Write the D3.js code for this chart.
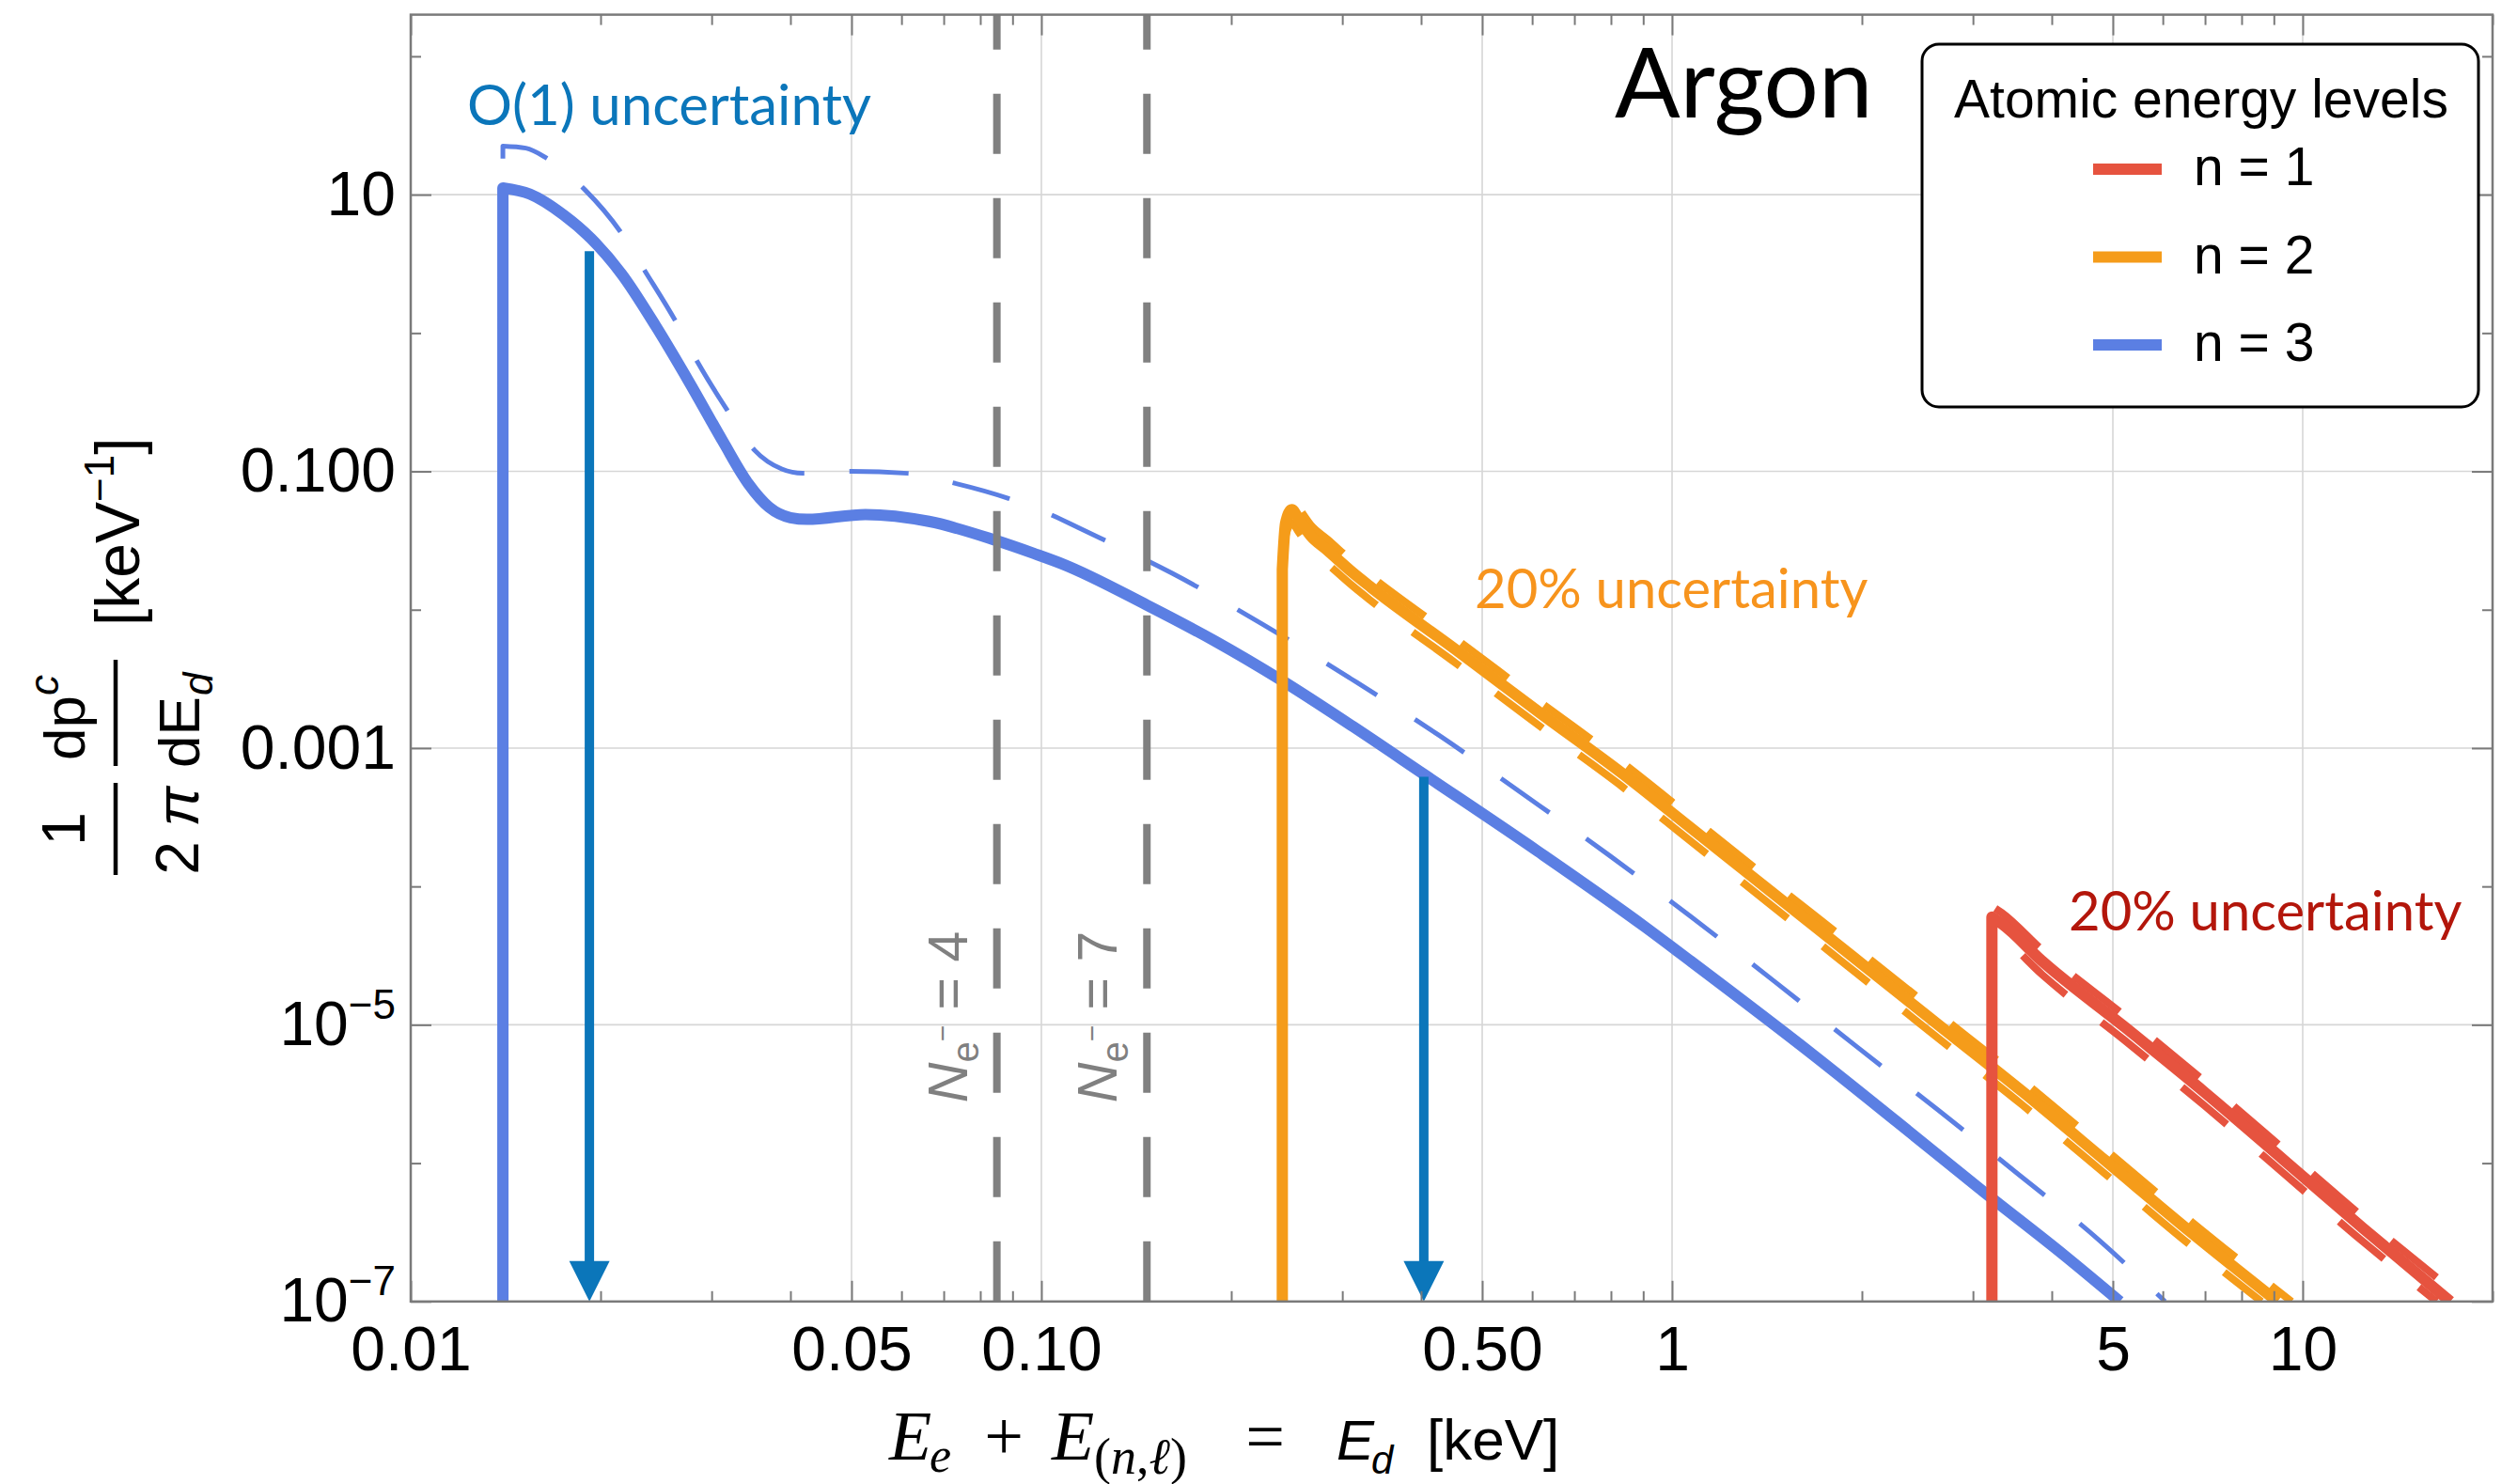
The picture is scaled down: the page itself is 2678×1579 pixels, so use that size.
<!DOCTYPE html>
<html><head><meta charset="utf-8">
<script src="https://cdn.jsdelivr.net/npm/d3@7"></script>
<style>
html,body{margin:0;padding:0;background:#fff;}
svg{display:block;}
</style></head>
<body>
<svg id="chart" width="2678" height="1579"></svg>
<script>
// ---------------- DATA ----------------
// n = 3 (blue) central estimate and O(1) upper estimate  [E_d keV, rate keV^-1]
const n3Solid = [[0.0140,1e-7],[0.0140,11.2],[0.01545,10.1],[0.0175,7.1],[0.0193,4.84],[0.0216,2.67],[0.0245,1.11],[0.0277,0.434],[0.0313,0.163],[0.0343,0.0815],[0.0370,0.0551],[0.0400,0.0463],[0.0425,0.0450],[0.0526,0.0488],[0.0663,0.0435],[0.0845,0.0318],[0.0973,0.0255],[0.108,0.0214],[0.147,0.0108],[0.188,5.97e-3],[0.240,3.1e-3],[0.312,1.43e-3],[0.404,6.47e-4],[0.612,1.80e-4],[0.906,5.1e-5],[1.075,2.84e-5],[1.671,6.1e-6],[2.27,2.0e-6],[3.08,6.5e-7],[4.19,2.15e-7],[5.13,1e-7]];
const n3Upper = [[0.0140,1e-7],[0.0140,22.4],[0.01523,21.7],[0.01644,18.3],[0.01887,10.9],[0.0215,5.4],[0.02356,2.77],[0.02624,1.24],[0.0285,0.616],[0.03177,0.276],[0.0351,0.142],[0.03876,0.104],[0.04183,0.0968],[0.0499,0.100],[0.0614,0.0968],[0.0726,0.0824],[0.0887,0.0637],[0.1042,0.048],[0.1143,0.0393],[0.161,0.0184],[0.2241,7.87e-3],[0.3093,3.18e-3],[0.4266,1.24e-3],[0.58,4.66e-4],[0.7933,1.69e-4],[1.071,6.05e-5],[1.451,2.07e-5],[1.956,7.03e-6],[2.638,2.43e-6],[3.549,8.24e-7],[4.77,2.74e-7],[6.05,1e-7]];
// n = 2 (orange) central, +20%, -20%
const n2Solid = [[0.2410,1e-7],[0.2410,0.0196],[0.2439,0.0422],[0.2495,0.0530],[0.2552,0.0462],[0.2674,0.0342],[0.2844,0.0268],[0.3118,0.0185],[0.334,0.0144],[0.454,5.14e-3],[0.617,1.80e-3],[0.837,6.47e-4],[1.055,2.80e-4],[1.434,9.2e-5],[1.948,3.03e-5],[2.645,9.98e-6],[3.594,3.29e-6],[4.88,1.03e-6],[6.635,3.19e-7],[9.12,1e-7]];
const n2Upper = [[0.2410,1e-7],[0.2410,0.0235],[0.2439,0.0506],[0.2495,0.0636],[0.2552,0.0554],[0.2674,0.0410],[0.2844,0.0322],[0.3118,0.0222],[0.334,0.0173],[0.454,6.17e-3],[0.617,2.16e-3],[0.837,7.76e-4],[1.055,3.36e-4],[1.434,1.10e-4],[1.948,3.64e-5],[2.645,1.20e-5],[3.594,3.95e-6],[4.88,1.24e-6],[6.635,3.83e-7],[9.6,1e-7]];
const n2Lower = [[0.2410,1e-7],[0.2410,0.0157],[0.2439,0.0338],[0.2495,0.0424],[0.2552,0.0370],[0.2674,0.0274],[0.2844,0.0214],[0.3118,0.0148],[0.334,0.0115],[0.454,4.11e-3],[0.617,1.44e-3],[0.837,5.18e-4],[1.055,2.24e-4],[1.434,7.36e-5],[1.948,2.42e-5],[2.645,7.98e-6],[3.594,2.63e-6],[4.88,8.24e-7],[6.635,2.55e-7],[8.6,1e-7]];
// n = 1 (red) central, +20%, -20%
const n1Solid = [[3.215,1e-7],[3.215,6.0e-5],[3.334,5.37e-5],[3.864,2.88e-5],[5.197,9.8e-6],[6.99,3.25e-6],[9.34,1.05e-6],[12.47,3.38e-7],[17.14,1e-7]];
const n1Upper = [[3.215,1e-7],[3.215,7.2e-5],[3.334,6.44e-5],[3.864,3.46e-5],[5.197,1.18e-5],[6.99,3.9e-6],[9.34,1.26e-6],[12.47,4.06e-7],[18.2,1e-7]];
const n1Lower = [[3.215,1e-7],[3.215,4.8e-5],[3.334,4.3e-5],[3.864,2.3e-5],[5.197,7.84e-6],[6.99,2.6e-6],[9.34,8.4e-7],[12.47,2.7e-7],[16.3,1e-7]];
// O(1) downward arrows
const arrowX = [0.0192, 0.404];
const arrowTop = [3.9, 6.2e-4];
// electron-number thresholds
const thresholdX = [0.085, 0.147];
const thresholdN = ["4", "7"];
// ticks
const xMajor = [0.01, 0.05, 0.1, 0.5, 1, 5, 10];
const xMajorLabels = ["0.01", "0.05", "0.10", "0.50", "1", "5", "10"];
const yMajor = [1e-7, 1e-5, 1e-3, 0.1, 10];
const yMajorLabels = ["10^\u22127", "10^\u22125", "0.001", "0.100", "10"];
const yMinor = [1e-6, 1e-4, 1e-2, 1, 100];
// legend
const levelLabels = ["n = 1", "n = 2", "n = 3"];

// ---------------- LAYOUT ----------------
const m = {l:437, r:2652, t:15.6, b:1384.8};
const C = {red:"#E6533F", orange:"#F59C1A", blue:"#5B7FE3", arrow:"#0B76BA", gray:"#808080",
           redText:"#B3160B", orangeText:"#F7941D", frame:"#7a7a7a", grid:"#d6d6d6"};
const levelColors = [C.red, C.orange, C.blue];
const SANS = "'Liberation Sans', Arial, Helvetica, sans-serif";
const SERIF = "'Liberation Serif', 'DejaVu Serif', serif";
const GILL = "Lato, 'Open Sans', sans-serif";

const x = d3.scaleLog().domain([0.01, 20]).range([m.l, m.r]);
const y = d3.scaleLog().domain([1e-7, 200]).range([m.b, m.t]);

const svg = d3.select("#chart");
svg.append("rect").attr("width",2678).attr("height",1579).attr("fill","#fff");
svg.append("defs").append("clipPath").attr("id","clip")
  .append("rect").attr("x",m.l).attr("y",m.t).attr("width",m.r-m.l).attr("height",m.b-m.t);

// grid
const grid = svg.append("g");
xMajor.filter(v=>v>0.01).forEach(v=>{
  grid.append("line").attr("x1",x(v)).attr("x2",x(v)).attr("y1",m.t).attr("y2",m.b)
    .attr("stroke",C.grid).attr("stroke-width",1.6);
});
yMajor.filter(v=>v>1e-7).forEach(v=>{
  grid.append("line").attr("x1",m.l).attr("x2",m.r).attr("y1",y(v)).attr("y2",y(v))
    .attr("stroke",C.grid).attr("stroke-width",1.6);
});

// curves
const lineGen = d3.line().x(d=>x(d[0])).y(d=>y(d[1])).curve(d3.curveMonotoneX);
function curvePath(pts){
  const rest = lineGen(pts.slice(1));
  return `M${x(pts[0][0])},${y(pts[0][1])}L` + rest.slice(1);
}
const plot = svg.append("g").attr("clip-path","url(#clip)");
function drawCurve(pts, color, width, dash, offset){
  const p = plot.append("path").attr("d", curvePath(pts)).attr("fill","none")
    .attr("stroke", color).attr("stroke-width", width)
    .attr("stroke-linejoin","round").attr("stroke-linecap","butt");
  if (dash) p.attr("stroke-dasharray", dash).attr("stroke-dashoffset", offset||0);
  return p;
}
drawCurve(n3Upper, C.blue, 5, "63,48", 5);
drawCurve(n3Solid, C.blue, 12);
drawCurve(n2Lower, C.orange, 8, "62,48", 95);
drawCurve(n2Upper, C.orange, 8, "62,48", 5);
drawCurve(n2Solid, C.orange, 12);
drawCurve(n1Lower, C.red, 8, "62,48", 3);
drawCurve(n1Upper, C.red, 8, "62,48", 15);
drawCurve(n1Solid, C.red, 12);

// threshold lines
thresholdX.forEach((v,i)=>{
  plot.append("line").attr("x1",x(v)).attr("x2",x(v)).attr("y1",y(1e-7)).attr("y2",y(200))
    .attr("stroke",C.gray).attr("stroke-width",8).attr("stroke-dasharray","64,47");
  const t = svg.append("text").attr("transform",`translate(${x(v)-32},1082) rotate(-90)`)
    .attr("text-anchor","middle").attr("fill",C.gray).attr("font-family",SANS).attr("font-size",59);
  t.append("tspan").attr("font-style","italic").text("N");
  t.append("tspan").attr("font-size",40).attr("dy",12).text("e");
  t.append("tspan").attr("font-size",30).attr("dy",-28).text("\u2212");
  t.append("tspan").attr("dy",16).text(" = " + thresholdN[i]);
});

// arrows
arrowX.forEach((v,i)=>{
  const ax = x(v), top = y(arrowTop[i]), bot = y(1e-7);
  svg.append("line").attr("x1",ax).attr("x2",ax).attr("y1",top).attr("y2",bot-40)
    .attr("stroke",C.arrow).attr("stroke-width",10);
  svg.append("path").attr("d",`M${ax-21.5},${bot-43}L${ax+21.5},${bot-43}L${ax},${bot}Z`).attr("fill",C.arrow);
});

// frame
svg.append("rect").attr("x",m.l).attr("y",m.t).attr("width",m.r-m.l).attr("height",m.b-m.t)
  .attr("fill","none").attr("stroke",C.frame).attr("stroke-width",2.5);

// axes
const xMinor = x.ticks().filter(v=>!xMajor.some(M=>Math.abs(M-v)/M<1e-6));
function styleAxis(g){
  g.select(".domain").remove();
  g.selectAll(".tick line").attr("stroke",C.frame).attr("stroke-width",2);
  g.attr("font-family",SANS).attr("font-size",66);
  g.selectAll(".tick text").attr("fill","#000");
}
svg.append("g").attr("transform",`translate(0,${m.b})`)
  .call(d3.axisBottom(x).tickValues(xMajor).tickFormat((d,i)=>xMajorLabels[i]).tickSizeInner(-22).tickSizeOuter(0).tickPadding(26))
  .call(styleAxis);
svg.append("g").attr("transform",`translate(0,${m.b})`)
  .call(d3.axisBottom(x).tickValues(xMinor).tickFormat("").tickSizeInner(-11).tickSizeOuter(0)).call(styleAxis);
svg.append("g").attr("transform",`translate(0,${m.t})`)
  .call(d3.axisTop(x).tickValues(xMajor).tickFormat("").tickSizeInner(-22).tickSizeOuter(0)).call(styleAxis);
svg.append("g").attr("transform",`translate(0,${m.t})`)
  .call(d3.axisTop(x).tickValues(xMinor).tickFormat("").tickSizeInner(-11).tickSizeOuter(0)).call(styleAxis);
const yAx = svg.append("g").attr("transform",`translate(${m.l},0)`)
  .call(d3.axisLeft(y).tickValues(yMajor).tickFormat((d,i)=>yMajorLabels[i]).tickSizeInner(-22).tickSizeOuter(0).tickPadding(16))
  .call(styleAxis);
yAx.selectAll(".tick text").each(function(){
  const s = d3.select(this), txt = s.text();
  if (txt.includes("^")){
    const [b,e] = txt.split("^");
    s.text(b);
    s.append("tspan").attr("font-size",44).attr("dy",-28).text(e);
  }
});
svg.append("g").attr("transform",`translate(${m.l},0)`)
  .call(d3.axisLeft(y).tickValues(yMinor).tickFormat("").tickSizeInner(-11).tickSizeOuter(0)).call(styleAxis);
svg.append("g").attr("transform",`translate(${m.r},0)`)
  .call(d3.axisRight(y).tickValues(yMajor).tickFormat("").tickSizeInner(-22).tickSizeOuter(0)).call(styleAxis);
svg.append("g").attr("transform",`translate(${m.r},0)`)
  .call(d3.axisRight(y).tickValues(yMinor).tickFormat("").tickSizeInner(-11).tickSizeOuter(0)).call(styleAxis);

// annotations
svg.append("text").attr("x",1718).attr("y",125).attr("font-family",GILL).attr("font-size",103).attr("fill","#000").text("Argon");
svg.append("text").attr("x",497).attr("y",133).attr("font-family",GILL).attr("font-size",60).attr("fill",C.arrow).text("O(1) uncertainty");
svg.append("text").attr("x",1569).attr("y",647).attr("font-family",GILL).attr("font-size",58).attr("fill",C.orangeText).text("20% uncertainty");
svg.append("text").attr("x",2201).attr("y",990).attr("font-family",GILL).attr("font-size",58).attr("fill",C.redText).text("20% uncertainty");

// legend
const lg = svg.append("g");
lg.append("rect").attr("x",2045).attr("y",47).attr("width",592).attr("height",386).attr("rx",18)
  .attr("fill","#fff").attr("stroke","#000").attr("stroke-width",3);
lg.append("text").attr("x",2342).attr("y",125).attr("text-anchor","middle").attr("font-family",SANS)
  .attr("font-size",57).text("Atomic energy levels");
levelLabels.forEach((lab,i)=>{
  const ly = 180 + i*93.5;
  lg.append("line").attr("x1",2227).attr("x2",2300).attr("y1",ly).attr("y2",ly)
    .attr("stroke",levelColors[i]).attr("stroke-width",12);
  lg.append("text").attr("x",2334).attr("y",ly+17).attr("font-family",SANS).attr("font-size",57).text(lab);
});

// x-axis label
const xl = svg.append("g").attr("fill","#000");
xl.append("text").attr("x",946).attr("y",1553).attr("font-family",SERIF).attr("font-style","italic").attr("font-size",74).text("E");
xl.append("text").attr("x",989).attr("y",1566).attr("font-family",SERIF).attr("font-style","italic").attr("font-size",52).text("e");
xl.append("text").attr("x",1068).attr("y",1553).attr("text-anchor","middle").attr("font-family",SERIF).attr("font-size",74).text("+");
xl.append("text").attr("x",1119).attr("y",1553).attr("font-family",SERIF).attr("font-style","italic").attr("font-size",74).text("E");
const sub = xl.append("text").attr("x",1164).attr("y",1568).attr("font-family",SERIF).attr("font-size",54);
sub.append("tspan").text("(");
sub.append("tspan").attr("font-style","italic").text("n");
sub.append("tspan").text(",");
sub.append("tspan").attr("font-style","italic").text("\u2113");
sub.append("tspan").text(")");
xl.append("text").attr("x",1346).attr("y",1553).attr("text-anchor","middle").attr("font-family",SERIF).attr("font-size",74).text("=");
xl.append("text").attr("x",1422).attr("y",1553).attr("font-family",SANS).attr("font-style","italic").attr("font-size",60).text("E");
xl.append("text").attr("x",1459).attr("y",1568).attr("font-family",SANS).attr("font-style","italic").attr("font-size",42).text("d");
xl.append("text").attr("x",1518).attr("y",1553).attr("font-family",SANS).attr("font-size",62).text("[keV]");

// y-axis label (rotated)
const yl = svg.append("g").attr("transform","translate(123,931) rotate(-90)")
  .attr("font-family",SANS).attr("fill","#000");
yl.append("text").attr("x",49).attr("y",-33).attr("text-anchor","middle").attr("font-size",64).text("1");
yl.append("line").attr("x1",0).attr("x2",98).attr("y1",0).attr("y2",0).attr("stroke","#000").attr("stroke-width",4.5);
yl.append("text").attr("x",18).attr("y",88).attr("text-anchor","middle").attr("font-size",64).text("2");
yl.append("text").attr("x",73).attr("y",88).attr("text-anchor","middle").attr("font-size",64).attr("font-style","italic").text("\u03c0");
yl.append("text").attr("x",122).attr("y",-33).attr("font-size",62).text("dp");
yl.append("text").attr("x",191).attr("y",-61).attr("font-size",44).attr("font-style","italic").text("c");
yl.append("line").attr("x1",116).attr("x2",229).attr("y1",0).attr("y2",0).attr("stroke","#000").attr("stroke-width",4.5);
yl.append("text").attr("x",114).attr("y",89).attr("font-size",62).text("dE");
yl.append("text").attr("x",191).attr("y",103).attr("font-size",44).attr("font-style","italic").text("d");
const unit = yl.append("text").attr("x",265).attr("y",25).attr("font-size",66);
unit.append("tspan").text("[keV");
unit.append("tspan").attr("font-size",44).attr("dy",-27).text("\u22121");
unit.append("tspan").attr("dy",27).text("]");
</script>
</body></html>
